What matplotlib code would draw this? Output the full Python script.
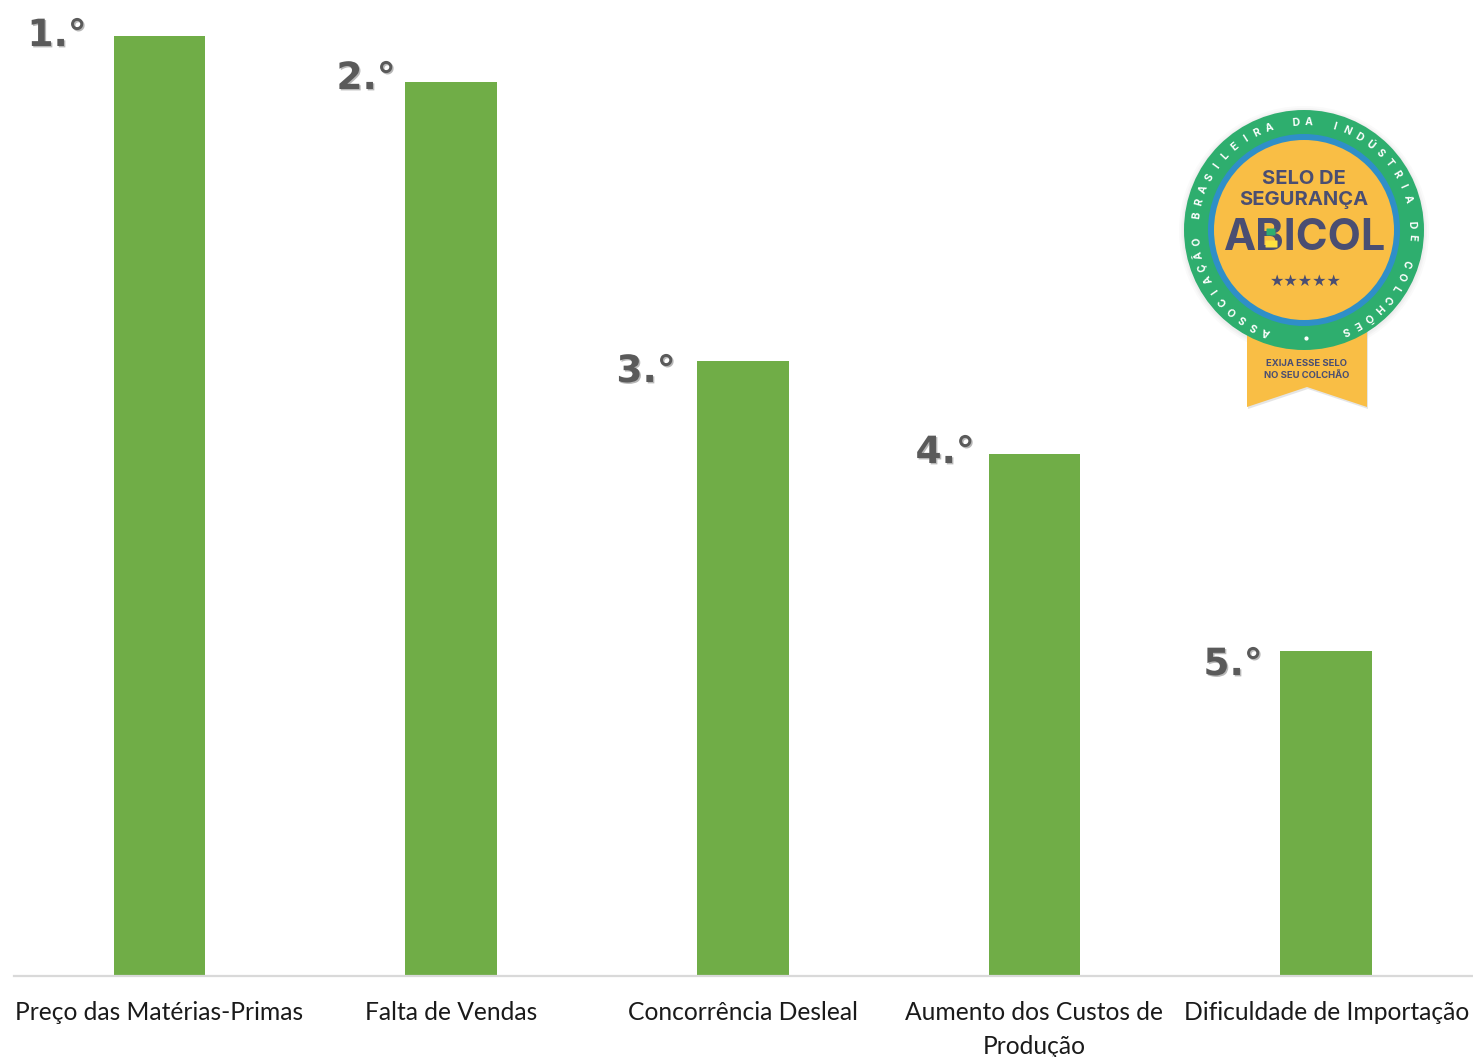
# plot.py
# Ranking of problems reported by the industry, with the ABICOL seal on top.

import numpy as np
import matplotlib
matplotlib.use("Agg")
import matplotlib.pyplot as plt
import matplotlib.patheffects as pe
from matplotlib.patches import Circle, Polygon, FancyBboxPatch

categories = [
    "Preço das Matérias-Primas",
    "Falta de Vendas",
    "Concorrência Desleal",
    "Aumento dos Custos de\nProdução",
    "Dificuldade de Importação",
]
values = [100.0, 95.1, 65.4, 55.5, 34.6]  # the chart has no scale, first bar taken as 100
rank_labels = ["1.°", "2.°", "3.°", "4.°", "5.°"]
rank_x_px = [57, 366, 646, 945, 1233]
rank_y_px = [36, 79, 372, 453, 665]

ring_text = "ASSOCIAÇÃO BRASILEIRA DA INDÚSTRIA DE COLCHÕES"

W, H = 1473, 1057
GREEN = "#70AD47"
NAVY = "#4A4E72"
YELLOW = "#F9BE45"

fig = plt.figure(figsize=(W / 100, H / 100), dpi=100, facecolor="white")

# main bars, axes spans px 14..1472 and baseline at y=976
ax = fig.add_axes([13.5 / W, (H - 976) / H, 1458.5 / W, 976 / H])
x = np.arange(len(categories))
ax.bar(x, values, width=0.314, color=GREEN)
ax.set_xlim(-0.5, 4.5)
ax.set_ylim(0, 103.83)
ax.set_yticks([])
ax.set_xticks(x)
ax.set_xticklabels(categories, family="Lato", fontsize=17.7, color="#1a1a1a", linespacing=1.6)
ax.tick_params(axis="x", length=0, pad=18.0)
for s in ["top", "left", "right"]:
    ax.spines[s].set_visible(False)
ax.spines["bottom"].set_color("#D9D9D9")
ax.spines["bottom"].set_linewidth(1.6)
ax.patch.set_alpha(0)

# overlay in pixel coordinates for the rank labels and the seal
ov = fig.add_axes([0, 0, 1, 1])
ov.set_xlim(0, W)
ov.set_ylim(H, 0)
ov.axis("off")

for lab, lx, ly in zip(rank_labels, rank_x_px, rank_y_px):
    ov.text(lx, ly, lab, family="DejaVu Sans", fontweight="bold", fontsize=27,
            color="#5A5A5A", ha="center", va="center",
            path_effects=[pe.withSimplePatchShadow(offset=(1, -1), shadow_rgbFace="#888888", alpha=0.6)])

# seal
cx, cy = 1304, 230
for r, a in [(125, 0.04), (123, 0.05), (121.5, 0.06)]:
    ov.add_patch(Circle((cx, cy + 1), r, color="#888888", alpha=a, lw=0))
ribbon = [(1247, 320), (1367, 320), (1367, 407), (1307, 387), (1247, 407)]
ov.add_patch(Polygon([(px + 1, py + 2) for px, py in ribbon], color="#999999", alpha=0.25, lw=0))
ov.add_patch(Polygon(ribbon, color=YELLOW, lw=0))
ov.add_patch(Circle((cx, cy), 120, color="#2EAE6E", lw=0))
ov.add_patch(Circle((cx, cy), 96, color="#2F8FC8", lw=0))
ov.add_patch(Circle((cx, cy), 90, color=YELLOW, lw=0))

ov.text(cx, 179, "SELO DE", family="Inter", fontweight="bold", fontsize=14.5, color=NAVY, ha="center", va="center")
ov.text(cx, 200, "SEGURANÇA", family="Inter", fontweight="bold", fontsize=14.5, color=NAVY, ha="center", va="center")
ov.text(cx + 1, 239, "ABICOL", family="Inter", fontweight="bold", fontsize=31, color=NAVY, ha="center", va="center")
ov.add_patch(FancyBboxPatch((1267, 229), 8, 6, boxstyle="round,pad=0.5", color="#2EAE6E", lw=0, zorder=5))
ov.add_patch(FancyBboxPatch((1266, 241), 11, 6, boxstyle="round,pad=0.5", color="#FFE23F", lw=0, zorder=5))
ov.text(cx + 2, 281, "★★★★★", family="DejaVu Sans", fontsize=11.5, color=NAVY, ha="center", va="center")
ov.text(1306.5, 364, "EXIJA ESSE SELO", family="Inter", fontweight="bold", fontsize=6.8, color=NAVY, ha="center", va="center")
ov.text(1306.5, 376, "NO SEU COLCHÃO", family="Inter", fontweight="bold", fontsize=6.8, color=NAVY, ha="center", va="center")
ov.plot([1306], [338], "o", ms=2, color="white")

# ring lettering runs clockwise, starting at the lower left
angles = np.linspace(-110.5, -110.5 - 317, len(ring_text))
for ch, ang in zip(ring_text, angles):
    if ch == " ":
        continue
    t = np.deg2rad(ang)
    ov.text(cx + 108 * np.cos(t), cy - 108 * np.sin(t), ch, family="Inter", fontweight="bold",
            fontsize=7.5, color="white", ha="center", va="center",
            rotation=ang - 90, rotation_mode="anchor")

fig.savefig("out.png", dpi=100)
